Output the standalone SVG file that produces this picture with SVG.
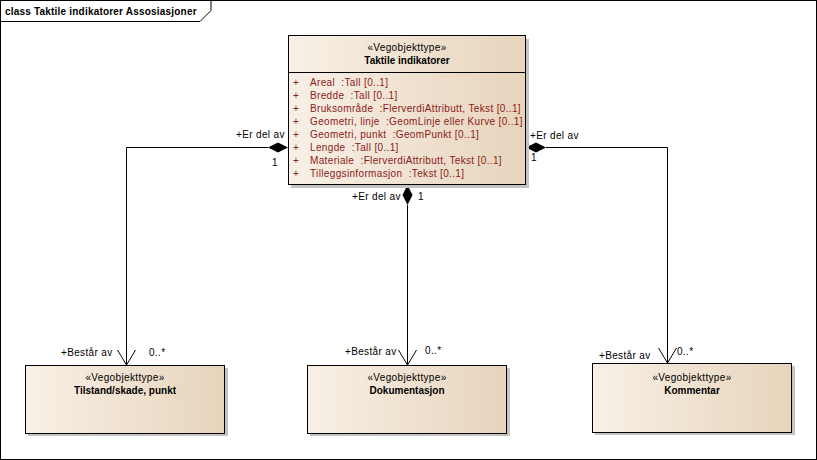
<svg xmlns="http://www.w3.org/2000/svg" width="817" height="460" viewBox="0 0 817 460">
<defs>
<linearGradient id="g" x1="0" y1="0" x2="1" y2="0">
<stop offset="0" stop-color="#f8f0e6"/>
<stop offset="1" stop-color="#e7d4bc"/>
</linearGradient>
</defs>
<style>
text{font-family:"Liberation Sans",Arial,sans-serif;font-size:10px;fill:#000;white-space:pre;letter-spacing:0.35px}
.b{font-weight:bold;letter-spacing:0}
.a{fill:#8b1a1a}
.box{fill:url(#g);stroke:#000;stroke-width:1}
.sh{fill:#c4c4c4}
.ln{fill:none;stroke:#000;stroke-width:1}
</style>
<rect x="0.5" y="0.5" width="816" height="459" fill="#fff" stroke="#000"/>
<path d="M0.5,21.5 H200 L211,10.5 V0.5" fill="none" stroke="#000"/>
<text x="5" y="15" class="b" style="letter-spacing:0.2px">class Taktile indikatorer Assosiasjoner</text>

<g id="connectors">
<path class="ln" d="M268,147.5 H126.5 V365"/>
<path class="ln" d="M117.5,350 L126.5,365 L135.5,350"/>
<path d="M288,147.5 L278,142.5 L268,147.5 L278,152.5 Z" fill="#000"/>
<text x="236" y="138">+Er del av</text>
<text x="272" y="166">1</text>
<text x="61" y="356">+Består av</text>
<text x="149" y="356">0..*</text>

<path class="ln" d="M407.5,205 V365"/>
<path class="ln" d="M398.5,350 L407.5,365 L416.5,350"/>
<path d="M407.5,185 L402.5,195 L407.5,205 L412.5,195 Z" fill="#000"/>
<text x="352" y="200">+Er del av</text>
<text x="418" y="200">1</text>
<text x="345" y="355">+Består av</text>
<text x="425" y="354">0..*</text>

<path class="ln" d="M546,147.5 H667.5 V363"/>
<path class="ln" d="M658.5,348 L667.5,363 L676.5,348"/>
<path d="M526,147.5 L536,142.5 L546,147.5 L536,152.5 Z" fill="#000"/>
<text x="530" y="139">+Er del av</text>
<text x="531" y="161">1</text>
<text x="599" y="359">+Består av</text>
<text x="677" y="355">0..*</text>
</g>

<g id="taktile">
<rect class="sh" x="291" y="39" width="238" height="149"/>
<rect class="box" x="288.5" y="35.5" width="237" height="149"/>
<line x1="288.5" y1="72.5" x2="525.5" y2="72.5" stroke="#000"/>
<text x="407" y="51" text-anchor="middle">«Vegobjekttype»</text>
<text x="407" y="64" text-anchor="middle" class="b">Taktile indikatorer</text>
<text class="a" x="293" y="86">+</text><text class="a" x="310" y="86">Areal  :Tall [0..1]</text>
<text class="a" x="293" y="99">+</text><text class="a" x="310" y="99">Bredde  :Tall [0..1]</text>
<text class="a" x="293" y="112">+</text><text class="a" x="310" y="112">Bruksområde  :FlerverdiAttributt, Tekst [0..1]</text>
<text class="a" x="293" y="125">+</text><text class="a" x="310" y="125">Geometri, linje  :GeomLinje eller Kurve [0..1]</text>
<text class="a" x="293" y="138">+</text><text class="a" x="310" y="138">Geometri, punkt  :GeomPunkt [0..1]</text>
<text class="a" x="293" y="151">+</text><text class="a" x="310" y="151">Lengde  :Tall [0..1]</text>
<text class="a" x="293" y="164">+</text><text class="a" x="310" y="164">Materiale  :FlerverdiAttributt, Tekst [0..1]</text>
<text class="a" x="293" y="177">+</text><text class="a" x="310" y="177">Tilleggsinformasjon  :Tekst [0..1]</text>
</g>

<g id="tilstand">
<rect class="sh" x="28" y="368" width="200" height="68"/>
<rect class="box" x="25.5" y="365.5" width="199" height="68"/>
<text x="125" y="381" text-anchor="middle">«Vegobjekttype»</text>
<text x="125" y="394" text-anchor="middle" class="b">Tilstand/skade, punkt</text>
</g>

<g id="dokumentasjon">
<rect class="sh" x="310" y="368" width="200" height="68"/>
<rect class="box" x="307.5" y="365.5" width="199" height="68"/>
<text x="407" y="381" text-anchor="middle">«Vegobjekttype»</text>
<text x="407" y="394" text-anchor="middle" class="b">Dokumentasjon</text>
</g>

<g id="kommentar">
<rect class="sh" x="595" y="366" width="200" height="69"/>
<rect class="box" x="592.5" y="363.5" width="199" height="69"/>
<text x="692" y="381" text-anchor="middle">«Vegobjekttype»</text>
<text x="692" y="394" text-anchor="middle" class="b">Kommentar</text>
</g>
</svg>
